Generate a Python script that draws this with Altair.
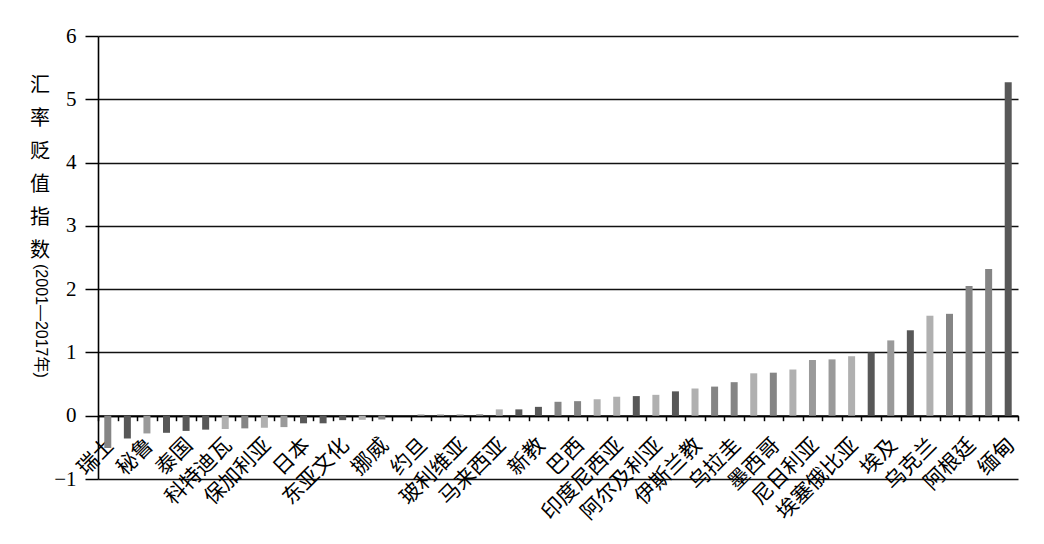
import json
import altair as alt
import pandas as pd

# ---- data ----
labels = ["瑞士", "秘鲁", "泰国", "科特迪瓦", "保加利亚", "日本", "东亚文化", "挪威",
          "约旦", "玻利维亚", "马来西亚", "新教", "巴西", "印度尼西亚", "阿尔及利亚",
          "伊斯兰教", "乌拉圭", "墨西哥", "尼日利亚", "埃塞俄比亚", "埃及", "乌克兰",
          "阿根廷", "缅甸"]

values = [-0.51, -0.36, -0.28, -0.27, -0.24, -0.22, -0.21, -0.20, -0.19, -0.18,
          -0.12, -0.12, -0.07, -0.065, -0.06, 0.0, 0.02, 0.02, 0.02, 0.025,
          0.10, 0.10, 0.14, 0.22, 0.23, 0.26, 0.30, 0.31, 0.33, 0.385,
          0.43, 0.46, 0.53, 0.67, 0.68, 0.73, 0.88, 0.89, 0.94, 1.00,
          1.19, 1.35, 1.58, 1.61, 2.05, 2.32, 5.27]

# shade group of each bar (0 light ... 3 dark)
shades = [2, 3, 1, 3, 3, 3, 0, 2, 0, 1,
          3, 3, 3, 0, 2, 2, 1, 1, 1, 1,
          0, 3, 3, 2, 2, 0, 0, 3, 0, 3,
          0, 2, 2, 0, 2, 0, 1, 1, 0, 3,
          1, 3, 0, 2, 2, 2, 3]

y_ticks = [-1, 0, 1, 2, 3, 4, 5, 6]
title_stack = "汇率贬值指数"
title_rot = "(2001—2017年)"

# ---- build ----
n = len(values)
label_list = [labels[i // 2] if i % 2 == 0 else "" for i in range(n)]
df = pd.DataFrame({"idx": list(range(n)), "value": values, "shade": shades})

W, H = 920, 443
Y_MIN, Y_MAX = y_ticks[0], y_ticks[-1]
zero_offset = -H * (0 - Y_MIN) / (Y_MAX - Y_MIN)

label_expr = json.dumps(label_list, ensure_ascii=False) + "[datum.value]"

bars = alt.Chart(df).mark_bar(size=7).encode(
    x=alt.X("idx:O", title=None,
            scale=alt.Scale(paddingInner=0, paddingOuter=0),
            axis=alt.Axis(labelExpr=label_expr, labelAngle=-45, labelAlign="right",
                          labelBaseline="middle", labelOverlap=False, labelFlush=False,
                          labelFont="Noto Sans CJK SC", labelFontSize=21,
                          labelPadding=21, labelOffset=3, tickSize=5, tickBand="extent",
                          offset=zero_offset, domainWidth=2, tickWidth=1.5,
                          grid=False)),
    y=alt.Y("value:Q", title=None,
            scale=alt.Scale(domain=[Y_MIN, Y_MAX], nice=False, zero=False),
            axis=alt.Axis(values=y_ticks, tickSize=13, labelPadding=9,
                          labelFont="Liberation Serif", labelFontSize=21,
                          grid=True, gridColor="#111111", gridWidth=1.6,
                          domainWidth=1.6, tickWidth=1.5)),
    color=alt.Color("shade:O", legend=None,
                    scale=alt.Scale(domain=[0, 1, 2, 3],
                                    range=["#b0b0b0", "#9a9a9a", "#858585", "#585858"])),
)

t1 = alt.Chart(pd.DataFrame({"t": ["\n".join(title_stack)]})).mark_text(
    lineBreak="\n", lineHeight=33, font="Noto Sans CJK SC", fontSize=20,
    align="center", baseline="top", color="black"
).encode(text="t:N", x=alt.value(-58), y=alt.value(40))

t2 = alt.Chart(pd.DataFrame({"t": [title_rot]})).mark_text(
    angle=90, align="left", baseline="middle",
    font="Liberation Sans, Noto Sans CJK SC", fontSize=16, color="black"
).encode(text="t:N", x=alt.value(-57), y=alt.value(228))

chart = alt.layer(bars, t1, t2).properties(
    width=W, height=H,
    autosize=alt.AutoSizeParams(type="none"),
    padding={"left": 90, "top": 28, "right": 18, "bottom": 57},
).configure_view(stroke=None).configure_axis(
    domainColor="black", tickColor="black", labelColor="black"
)

chart.save("out.html", embed_options={"renderer": "svg", "actions": False})
